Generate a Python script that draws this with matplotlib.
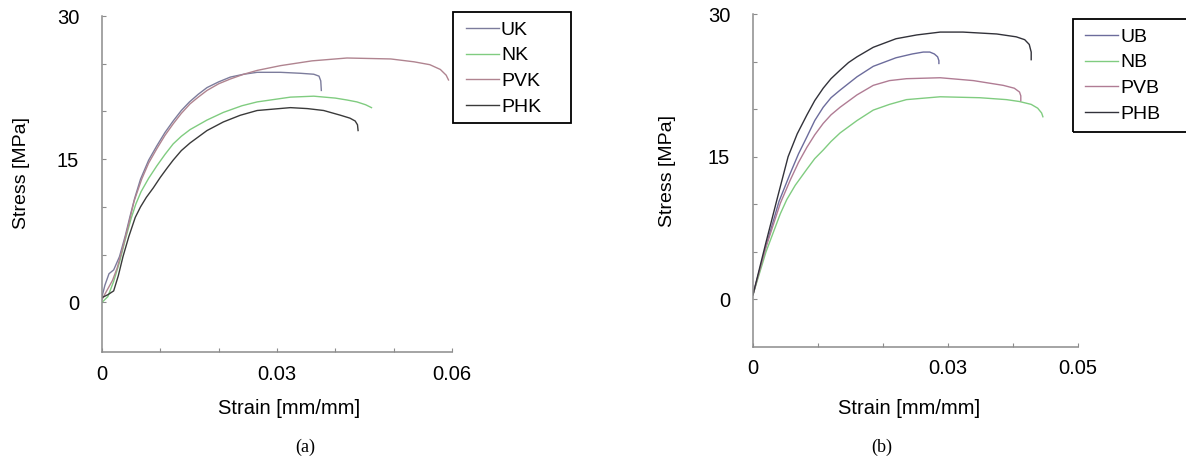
import matplotlib
matplotlib.use("Agg")
import matplotlib.pyplot as plt
import matplotlib.patches as patches

plt.rcParams['font.family'] = ['Liberation Sans', 'DejaVu Sans']

# ---- panel (a): K series ----
uk_strain = [0, 0.0005, 0.0012, 0.002, 0.003, 0.004, 0.0048, 0.0056, 0.0066, 0.008, 0.0094, 0.0108,
             0.0122, 0.0136, 0.015, 0.0165, 0.018, 0.02, 0.022, 0.0243, 0.0266, 0.0306, 0.034,
             0.0363, 0.0372, 0.0375, 0.0376]
uk_stress = [0.6, 1.8, 3.0, 3.4, 4.8, 7.0, 9.0, 10.9, 12.9, 14.9, 16.4, 17.8,
             19.0, 20.1, 21.0, 21.8, 22.5, 23.1, 23.6, 23.9, 24.1, 24.1, 24.0,
             23.9, 23.7, 23.2, 22.2]

nk_strain = [0, 0.001, 0.002, 0.003, 0.004, 0.005, 0.0058, 0.0067, 0.008, 0.0094, 0.0108, 0.0122,
             0.0136, 0.0151, 0.018, 0.0208, 0.024, 0.0266, 0.0323, 0.0363, 0.04, 0.042, 0.0437,
             0.0452, 0.0462]
nk_stress = [0.0, 0.6, 2.2, 4.2, 6.6, 8.8, 10.3, 11.6, 13.0, 14.3, 15.5, 16.6,
             17.4, 18.1, 19.1, 19.9, 20.6, 21.0, 21.5, 21.6, 21.4, 21.2, 21.0,
             20.7, 20.4]

pvk_strain = [0, 0.0008, 0.0018, 0.0026, 0.0035, 0.0045, 0.0055, 0.0068, 0.008, 0.0094, 0.0108,
              0.0122, 0.0136, 0.0151, 0.0165, 0.018, 0.02, 0.022, 0.0243, 0.0266, 0.0306, 0.036,
              0.042, 0.0495, 0.0535, 0.0562, 0.058, 0.059, 0.0594]
pvk_stress = [0.3, 1.2, 2.3, 3.6, 5.6, 8.0, 10.6, 12.9, 14.6, 16.1, 17.5,
              18.7, 19.8, 20.8, 21.5, 22.2, 22.9, 23.4, 23.9, 24.3, 24.8, 25.3,
              25.6, 25.5, 25.2, 24.9, 24.4, 23.8, 23.3]

phk_strain = [0, 0.001, 0.002, 0.0028, 0.0036, 0.0046, 0.0057, 0.0066, 0.0076, 0.0088, 0.01,
              0.0112, 0.0122, 0.0136, 0.0151, 0.018, 0.0208, 0.0237, 0.0266, 0.0323, 0.0352,
              0.038, 0.0409, 0.0425, 0.0434, 0.0438, 0.0439]
phk_stress = [0.5, 0.8, 1.2, 2.8, 4.8, 6.9, 8.9, 10.0, 11.0, 12.0, 13.1,
              14.1, 14.9, 15.9, 16.7, 18.0, 18.9, 19.6, 20.1, 20.4, 20.3,
              20.1, 19.6, 19.3, 19.0, 18.6, 18.0]

# ---- panel (b): B series ----
ub_strain = [0, 0.002, 0.004, 0.0057, 0.007, 0.0083, 0.0095, 0.0108, 0.012, 0.0134, 0.016,
             0.0185, 0.022, 0.0245, 0.0262, 0.0272, 0.0279, 0.0284, 0.0286, 0.0286]
ub_stress = [0.5, 5.6, 10.3, 13.2, 15.3, 17.1, 18.8, 20.2, 21.2, 22.0, 23.4,
             24.5, 25.4, 25.8, 26.0, 26.0, 25.8, 25.5, 25.1, 24.8]

nb_strain = [0, 0.002, 0.0042, 0.0052, 0.0065, 0.0083, 0.0095, 0.0108, 0.012, 0.0134, 0.016,
             0.0185, 0.021, 0.0236, 0.0288, 0.0349, 0.039, 0.041, 0.0428, 0.0438, 0.0444, 0.0446]
nb_stress = [0.5, 5.0, 9.0, 10.5, 12.0, 13.7, 14.8, 15.7, 16.6, 17.5, 18.8,
             19.9, 20.5, 21.0, 21.3, 21.2, 21.0, 20.8, 20.5, 20.1, 19.6, 19.2]

pvb_strain = [0, 0.002, 0.0042, 0.0057, 0.007, 0.0083, 0.0095, 0.0108, 0.012, 0.0134, 0.016,
              0.0185, 0.021, 0.0236, 0.0288, 0.0339, 0.0385, 0.0402, 0.041, 0.0412, 0.0412]
pvb_stress = [0.5, 5.5, 10.1, 12.5, 14.4, 16.0, 17.3, 18.5, 19.4, 20.2, 21.5,
              22.5, 23.0, 23.2, 23.3, 23.0, 22.5, 22.2, 21.8, 21.4, 20.9]

phb_strain = [0, 0.002, 0.0038, 0.0054, 0.0068, 0.0083, 0.0095, 0.0108, 0.012, 0.0134, 0.0147,
              0.016, 0.0185, 0.022, 0.0252, 0.0288, 0.0323, 0.0375, 0.0405, 0.0418, 0.0425,
              0.0428, 0.0428]
phb_stress = [0.5, 6.0, 10.8, 15.0, 17.4, 19.4, 20.9, 22.2, 23.2, 24.1, 24.9,
              25.5, 26.5, 27.4, 27.8, 28.1, 28.1, 27.9, 27.6, 27.3, 26.8,
              26.0, 25.2]

y_ticks = [0, 5, 10, 15, 20, 25, 30]
y_labels = ['0', '', '', '15', '', '', '30']
xa_ticks = [0, 0.01, 0.02, 0.03, 0.04, 0.05, 0.06]
xa_labels = ['0', '', '', '0.03', '', '', '0.06']
xb_ticks = [0, 0.01, 0.02, 0.03, 0.04, 0.05]
xb_labels = ['0', '', '', '0.03', '', '0.05']

W, H = 1186, 458
fig = plt.figure(figsize=(W / 100, H / 100), dpi=100)


def px_box(left, top, right, bottom):
    return [left / W, 1 - bottom / H, (right - left) / W, (bottom - top) / H]


def style_axes(ax, xticks, xlabels, ylab_xy, xlab_xy):
    for s in ['top', 'right']:
        ax.spines[s].set_visible(False)
    for s in ['left', 'bottom']:
        ax.spines[s].set_color('#8c8c8c')
        ax.spines[s].set_linewidth(1.1)
    ax.set_yticks(y_ticks)
    ax.set_yticklabels(y_labels)
    ax.set_xticks(xticks)
    ax.set_xticklabels(xlabels)
    ax.tick_params(axis='y', direction='in', length=3, width=0.8, color='#8c8c8c',
                   pad=16.5, labelsize=14.5)
    ax.tick_params(axis='x', direction='in', length=3, width=0.8, color='#8c8c8c',
                   pad=9, labelsize=14.5)
    ax.set_ylabel('Stress [MPa]', fontsize=14)
    ax.yaxis.set_label_coords(*ylab_xy)
    ax.yaxis.label.set_va('center')
    ax.set_xlabel('Strain [mm/mm]', fontsize=14.5)
    ax.xaxis.set_label_coords(*xlab_xy)
    ax.xaxis.label.set_va('center')


# panel (a)
ax1 = fig.add_axes(px_box(102, 16, 452, 352))
ax1.plot(uk_strain, uk_stress, color='#7c7c9c', lw=1.0, label='UK')
ax1.plot(nk_strain, nk_stress, color='#80cc80', lw=1.0, label='NK')
ax1.plot(pvk_strain, pvk_stress, color='#b08490', lw=1.0, label='PVK')
ax1.plot(phk_strain, phk_stress, color='#3a3a3a', lw=1.0, label='PHK')
ax1.set_xlim(0, 0.06)
ax1.set_ylim(-5.2, 30)
style_axes(ax1, xa_ticks, xa_labels, ((22 - 102) / 350, (352 - 173) / 336),
           ((289 - 102) / 350, (352 - 408) / 336))
ax1.legend(loc='upper left', bbox_to_anchor=(466 / W, 1 - 21 / H), bbox_transform=fig.transFigure,
           frameon=False, fontsize=14, handlelength=1.7, handletextpad=0.1,
           labelspacing=0.42, borderpad=0, borderaxespad=0)
fig.add_artist(patches.Rectangle((453 / W, 1 - 123 / H), 118 / W, 111 / H,
                                 transform=fig.transFigure, fill=False, ec='black', lw=1.3))

# panel (b)
ax2 = fig.add_axes(px_box(753, 14, 1078, 347))
ax2.plot(ub_strain, ub_stress, color='#6c6c9c', lw=1.0, label='UB')
ax2.plot(nb_strain, nb_stress, color='#80cc80', lw=1.0, label='NB')
ax2.plot(pvb_strain, pvb_stress, color='#b07c94', lw=1.0, label='PVB')
ax2.plot(phb_strain, phb_stress, color='#32323a', lw=1.0, label='PHB')
ax2.set_xlim(0, 0.05)
ax2.set_ylim(-5, 30)
style_axes(ax2, xb_ticks, xb_labels, ((667 - 753) / 325, (347 - 171) / 333),
           ((909 - 753) / 325, (347 - 408) / 333))
ax2.legend(loc='upper left', bbox_to_anchor=(1085 / W, 1 - 28 / H), bbox_transform=fig.transFigure,
           frameon=False, fontsize=14, handlelength=1.7, handletextpad=0.1,
           labelspacing=0.42, borderpad=0, borderaxespad=0)
fig.add_artist(patches.Rectangle((1073 / W, 1 - 132 / H), 130 / W, 113 / H,
                                 transform=fig.transFigure, fill=False, ec='black', lw=1.3))

serif = ['Liberation Serif', 'DejaVu Serif']
fig.text(305 / W, 1 - 447 / H, '(a)', family=serif, fontsize=13, ha='center', va='center')
fig.text(882 / W, 1 - 447 / H, '(b)', family=serif, fontsize=13, ha='center', va='center')

fig.savefig('out.png', dpi=100, facecolor='white')
